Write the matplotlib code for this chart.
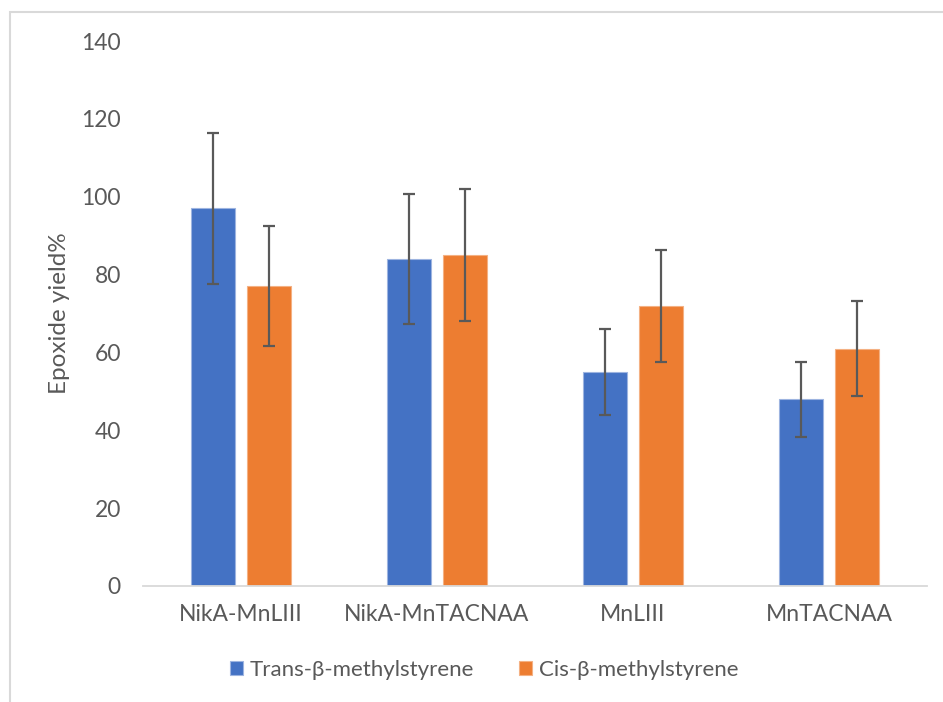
import numpy as np
import matplotlib.pyplot as plt
from matplotlib.patches import Rectangle

categories = ["NikA-MnLIII", "NikA-MnTACNAA", "MnLIII", "MnTACNAA"]
trans_yield = [97, 84, 55, 48]
trans_err = [19.4, 16.8, 11.0, 9.6]
cis_yield = [77, 85, 72, 61]
cis_err = [15.4, 17.0, 14.4, 12.2]
series_names = ["Trans-β-methylstyrene", "Cis-β-methylstyrene"]

plt.rcParams["font.family"] = ["Lato", "DejaVu Sans"]
text_color = "#595959"

fig = plt.figure(figsize=(9.43, 7.02), dpi=100)
ax = fig.add_axes([143 / 943, 1 - 586 / 702, 784 / 943, 545 / 702])

x = np.arange(len(categories))
w = 0.224
off = 0.143
err_style = dict(ecolor="#595959", elinewidth=1.6, capsize=4.3, capthick=1.6)
ax.bar(x - off, trans_yield, w, color="#4472c4", edgecolor="#9db4e0", linewidth=0.8,
       yerr=trans_err, error_kw=err_style, label=series_names[0])
ax.bar(x + off, cis_yield, w, color="#ed7d31", edgecolor="#f4b183", linewidth=0.8,
       yerr=cis_err, error_kw=err_style, label=series_names[1])

ax.set_xlim(-0.5, 3.5)
ax.set_ylim(0, 140)
ax.set_yticks(range(0, 141, 20))
ax.set_xticks(x)
ax.set_xticklabels(categories)
ax.tick_params(length=0, labelsize=16.5, colors=text_color)
ax.tick_params(axis="y", pad=16)
ax.tick_params(axis="x", pad=13)
for s in ["top", "right", "left"]:
    ax.spines[s].set_visible(False)
ax.spines["bottom"].set_color("#d9d9d9")
ax.spines["bottom"].set_linewidth(1.3)
ax.set_ylabel("Epoxide yield%", fontsize=17.5, color=text_color)
ax.yaxis.set_label_coords(-0.093, 0.5)

ax.legend(loc="center", bbox_to_anchor=(484 / 943, 1 - 670 / 702),
          bbox_transform=fig.transFigure, ncol=2, frameon=False,
          fontsize=16, labelcolor=text_color, handlelength=0.6, handleheight=0.6,
          handletextpad=0.3, columnspacing=2.0)

fig.patches.append(Rectangle((9.5 / 943, -0.05), 1.2, 1.05 - 12 / 702,
                             transform=fig.transFigure, fill=False,
                             edgecolor="#d9d9d9", linewidth=1.5))

fig.savefig("out.png", dpi=100, facecolor="white")
